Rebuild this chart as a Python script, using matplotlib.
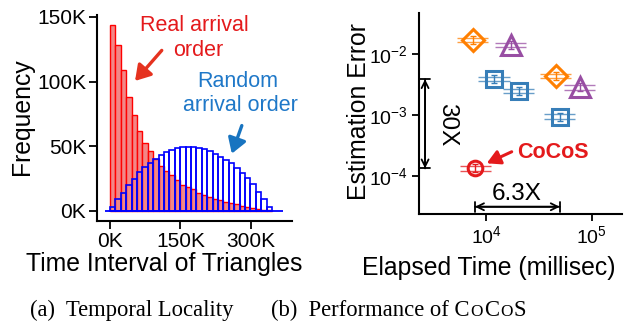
import numpy as np
import matplotlib
matplotlib.use('Agg')
import matplotlib.pyplot as plt
from matplotlib.patches import FancyArrowPatch

plt.rcParams['font.family'] = ['Liberation Sans', 'DejaVu Sans']
plt.rcParams['axes.unicode_minus'] = True

# ---------------- data: panel (a) ----------------
bin_width_k = 11.5
real_counts_k = [144, 128, 109, 88, 74.5, 61.5, 52.5, 46.5, 40.4, 35.0,
                 30.6, 27.5, 23.6, 20.2, 18.6, 16.8, 14.2, 12.4, 11.1, 9.5,
                 8.3, 7.2, 6.3, 5.4, 4.2, 3.2, 2.3, 1.6, 0.9, 0.4]
random_counts_k = [3.0, 9.0, 14.0, 20.0, 25.0, 30.0, 34.0, 37.0, 40.0, 43.5,
                   45.3, 47.2, 48.5, 49.3, 49.7, 49.7, 48.8, 47.6, 46.0, 44.0,
                   42.0, 39.6, 37.0, 33.5, 29.5, 25.2, 21.0, 15.0, 9.6, 3.1]
a_xticks = [0, 150, 300]
a_xticklabels = ['0K', '150K', '300K']
a_yticks = [0, 50, 100, 150]
a_yticklabels = ['0K', '50K', '100K', '150K']

# ---------------- data: panel (b) ----------------
cocos_time = [7870]
cocos_err = [1.32e-4]
orange_time = [7450, 45940]
orange_err = [0.0172, 0.00439]
purple_time = [17130, 77500]
purple_err = [0.01422, 0.00286]
blue_time = [11900, 20510, 49830]
blue_err = [0.00389, 0.00246, 0.000938]
b_xticks = [1e4, 1e5]
b_yticks = [1e-4, 1e-3, 1e-2]

C_RED = '#E41A1C'
C_BLUE = '#377EB8'
C_PURPLE = '#984EA3'
C_ORANGE = '#FF7F00'

fig = plt.figure(figsize=(6.32, 3.25), dpi=100)

# ================= panel (a) =================
ax1 = fig.add_axes([0.153, 0.321, 0.3085, 0.633])
nb = len(real_counts_k)
left_edges = np.arange(nb) * bin_width_k
ax1.bar(left_edges, real_counts_k, width=bin_width_k, align='edge',
        facecolor='#F28787', edgecolor='#FF0000', linewidth=1.0, zorder=2)
ax1.bar(left_edges, random_counts_k, width=bin_width_k, align='edge',
        facecolor='none', edgecolor='#0000FF', linewidth=1.2, zorder=3)
ax1.hlines(0, -10.7, 368, color='#0000FF', linewidth=1.3, zorder=4)

ax1.set_xlim(-28.4, 387)
ax1.set_ylim(-7.5, 151.5)
ax1.set_xticks(a_xticks)
ax1.set_xticklabels(a_xticklabels)
ax1.set_yticks(a_yticks)
ax1.set_yticklabels(a_yticklabels)
for s in ['top', 'right']:
    ax1.spines[s].set_visible(False)
for s in ['left', 'bottom']:
    ax1.spines[s].set_linewidth(1.5)
ax1.tick_params(axis='both', labelsize=15, length=6, width=1.3, direction='out')
ax1.tick_params(axis='y', pad=1.5)
ax1.tick_params(axis='x', pad=2.5)

ax1.text(180.6, 138.8, 'Real arrival', color=C_RED, fontsize=15.5,
         ha='center', va='baseline')
ax1.text(187.0, 119.9, 'order', color=C_RED, fontsize=15.5,
         ha='center', va='baseline')
ax1.text(272.5, 96.1, 'Random', color='#1F78C8', fontsize=15.5,
         ha='center', va='baseline')
ax1.text(277.2, 77.2, 'arrival order', color='#1F78C8', fontsize=15.5,
         ha='center', va='baseline')

ax1.add_patch(FancyArrowPatch((110.2, 124.1), (53.3, 100.5),
                              arrowstyle='-|>,head_length=0.45,head_width=0.28',
                              mutation_scale=20, color='#E5321F', linewidth=2.4,
                              shrinkA=0, shrinkB=0, zorder=5))
ax1.add_patch(FancyArrowPatch((280.8, 66.0), (259.5, 44.3),
                              arrowstyle='-|>,head_length=0.45,head_width=0.28',
                              mutation_scale=20, color='#1874C0', linewidth=2.4,
                              shrinkA=0, shrinkB=0, zorder=5))

fig.text(22.5 / 632, 1 - 116.7 / 325, 'Frequency', rotation=90, fontsize=17.8,
         ha='center', va='center')
fig.text(164 / 632, 1 - 264 / 325, 'Time Interval of Triangles', fontsize=17.8,
         ha='center', va='center')

# ================= panel (b) =================
ax2 = fig.add_axes([0.663, 0.3415, 0.3207, 0.6175])
ax2.set_xscale('log')
ax2.set_yscale('log')
ax2.set_xlim(10 ** 3.366, 10 ** 5.284)
ax2.set_ylim(10 ** -4.631, 10 ** -1.325)

xf = 1.402   # half-width factor of horizontal double lines
yf = 1.087   # offset factor of the double lines
ef = 1.164   # small vertical error bar factor


def draw_group(xs, ys, color, marker, ms):
    for x, y in zip(xs, ys):
        for f in (yf, 1 / yf):
            ax2.plot([x / xf, x * xf], [y * f, y * f], color=color,
                     linewidth=1.0, alpha=0.75, solid_capstyle='butt', zorder=3)
        ax2.errorbar([x], [y], yerr=[[y - y / ef], [y * ef - y]], fmt='none',
                     ecolor=color, elinewidth=1.0, capsize=2.5, capthick=1.0,
                     zorder=3)
    ax2.plot(xs, ys, linestyle='none', marker=marker, markersize=ms,
             markerfacecolor='none', markeredgecolor=color,
             markeredgewidth=2.2, zorder=4)


draw_group(orange_time, orange_err, C_ORANGE, 'D', 11.5)
draw_group(purple_time, purple_err, C_PURPLE, '^', 14)
draw_group(blue_time, blue_err, C_BLUE, 's', 11.5)
draw_group(cocos_time, cocos_err, C_RED, 'o', 10.5)

ax2.set_xticks(b_xticks)
ax2.set_yticks(b_yticks)
ax2.xaxis.set_minor_locator(matplotlib.ticker.NullLocator())
ax2.yaxis.set_minor_locator(matplotlib.ticker.NullLocator())
for s in ['top', 'right']:
    ax2.spines[s].set_visible(False)
for s in ['left', 'bottom']:
    ax2.spines[s].set_linewidth(1.5)
ax2.tick_params(axis='both', labelsize=14, length=5, width=1.3, direction='out')
ax2.tick_params(axis='y', pad=3)
ax2.tick_params(axis='x', pad=3)

# 30X vertical arrow
ax2.annotate('', xy=(2.65e3, cocos_err[0]), xytext=(2.65e3, blue_err[0]),
             arrowprops=dict(arrowstyle='|-|,widthA=0.35,widthB=0.35',
                             color='black', linewidth=1.3, shrinkA=0, shrinkB=0))
ax2.annotate('', xy=(2.65e3, cocos_err[0]), xytext=(2.65e3, blue_err[0]),
             arrowprops=dict(arrowstyle='<->,head_length=0.5,head_width=0.25',
                             color='black', linewidth=1.3, shrinkA=0, shrinkB=0))
ax2.text(4.31e3, 6.84e-4, '30X', rotation=270, fontsize=17.5,
         ha='center', va='center')

# 6.3X horizontal arrow
ax2.annotate('', xy=(blue_time[2], 3.08e-5), xytext=(cocos_time[0], 3.08e-5),
             arrowprops=dict(arrowstyle='|-|,widthA=0.35,widthB=0.35',
                             color='black', linewidth=1.3, shrinkA=0, shrinkB=0))
ax2.annotate('', xy=(blue_time[2], 3.08e-5), xytext=(cocos_time[0], 3.08e-5),
             arrowprops=dict(arrowstyle='<->,head_length=0.5,head_width=0.25',
                             color='black', linewidth=1.3, shrinkA=0, shrinkB=0))
ax2.text(1.95e4, 3.98e-5, '6.3X', fontsize=17.5, ha='center', va='baseline')

# CoCoS label
ax2.text(1.95e4, 1.94e-4, 'CoCoS', color=C_RED, fontsize=15.5,
         fontweight='bold', ha='left', va='baseline')
ax2.add_patch(FancyArrowPatch((1.75e4, 2.48e-4), (1.015e4, 1.6e-4),
                              arrowstyle='-|>,head_length=0.4,head_width=0.22',
                              mutation_scale=20, color=C_RED, linewidth=2.2,
                              shrinkA=0, shrinkB=0, zorder=5))

fig.text(358.5 / 632, 1 - 111.7 / 325, 'Estimation Error', rotation=90,
         fontsize=17.8, ha='center', va='center')
fig.text(489 / 632, 1 - 268 / 325, 'Elapsed Time (millisec)', fontsize=17.8,
         ha='center', va='center')

# ================= captions =================
SERIF = ['Liberation Serif', 'DejaVu Serif']
cap_base = 1 - 316 / 325
cap_size = 16.3
fig.text(131.7 / 632, cap_base, '(a)  Temporal Locality', family=SERIF,
         fontsize=cap_size, ha='center', va='baseline')

renderer = fig.canvas.get_renderer()
runs = [('(b)  Performance of C', cap_size), ('O', cap_size * 0.76),
        ('C', cap_size), ('O', cap_size * 0.76), ('S', cap_size)]
texts = [fig.text(0, cap_base, s, family=SERIF, fontsize=sz, ha='left',
                  va='baseline') for s, sz in runs]
gap = 1.0
widths = [t.get_window_extent(renderer).width for t in texts]
total = sum(widths) + gap * (len(widths) - 1)
x = 398.5 - total / 2
for t, w in zip(texts, widths):
    t.set_x(x / 632)
    x += w + gap

fig.savefig('out.png', dpi=100)
